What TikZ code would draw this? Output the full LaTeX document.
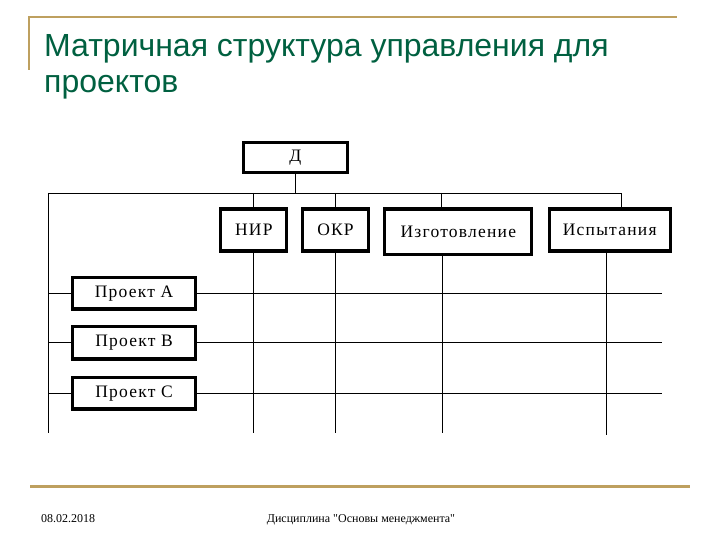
\documentclass[tikz,border=0pt]{standalone}
\usepackage{fontspec}
\setmainfont{Liberation Serif}[Ligatures=TeXOff]
\newfontfamily\titlefont{Liberation Sans}
\newfontfamily\boxfont[LetterSpace=7]{Liberation Serif}
\usetikzlibrary{positioning}
\definecolor{sGreen}{RGB}{0,96,64}
\definecolor{sGold}{RGB}{190,160,95}
\tikzset{
  obox/.style={draw, line width=3.2pt, fill=white, inner sep=0pt,
               font=\boxfont\fontsize{17.5}{20}\selectfont},
  oline/.style={black, line width=0.9pt},
  gline/.style={sGold, line width=2.2pt},
}
\begin{document}
\begin{tikzpicture}[x=1pt, y=-1pt]
    \useasboundingbox (0,0) rectangle (720,540);
    % title and frame
    \draw[gline] (29,70) -- (29,17) -- (677,17);
    \node[anchor=base west, inner sep=0pt, text=sGreen, font=\titlefont\fontsize{32}{36}\selectfont]
      (title) at (44,57) {Матричная структура управления для};
    \node[anchor=base west, inner sep=0pt, text=sGreen, font=\titlefont\fontsize{32}{36}\selectfont]
      (title2) at (44,93) {проектов};
    % boxes
    \node[obox, minimum width=104, minimum height=30] (dir) at (295.3,157.4) {Д};
    \node[obox, minimum width=66, minimum height=42] (nir) at (253.8,230) {НИР};
    \node[obox, minimum width=66, minimum height=42] (okr) at (335.5,230) {ОКР};
    \node[obox, minimum width=147, minimum height=45.5] (izg) at (458.3,231.7) {Изготовление};
    \node[obox, minimum width=121, minimum height=42] (isp) at (609.7,230) {Испытания};
    \node[obox, minimum width=123.5, minimum height=31.5] (pa) at (134,293.3) {Проект А};
    \node[obox, minimum width=123.5, minimum height=32.5] (pb) at (134,342.8) {Проект В};
    \node[obox, minimum width=123.5, minimum height=31.5] (pc) at (134,393.3) {Проект С};
    % junctions
    \coordinate (busL) at (48,193);
    \coordinate (busR) at (621,193);
    \coordinate (izgT) at (441,193);
    \coordinate (colL) at (48,433);
    \coordinate (izgB) at (442,433);
    \coordinate (ispB) at (606,435);
    \coordinate (rowR) at (662,293);
    % connectors
    \draw[oline] (dir.south) -- (dir.south |- busL);
    \draw[oline] (busL) -- (busR) -- (busR |- isp.north);
    \draw[oline] (nir.north |- busL) -- (nir.north);
    \draw[oline] (okr.north |- busL) -- (okr.north);
    \draw[oline] (izgT) -- (izgT |- izg.north);
    \draw[oline] (busL) -- (colL);
    \draw[oline] (nir.south) -- (nir.south |- colL);
    \draw[oline] (okr.south) -- (okr.south |- colL);
    \draw[oline] (izgB |- izg.south) -- (izgB);
    \draw[oline] (ispB |- isp.south) -- (ispB);
    \draw[oline] (pa.west -| colL) -- (pa.west);
    \draw[oline] (pb.west -| colL) -- (pb.west);
    \draw[oline] (pc.west -| colL) -- (pc.west);
    \draw[oline] (pa.east) -- (pa.east -| rowR);
    \draw[oline] (pb.east) -- (pb.east -| rowR);
    \draw[oline] (pc.east) -- (pc.east -| rowR);
    % footer
    \draw[gline, line width=3pt] (30,486) -- (690,486);
    \node[anchor=base west, inner sep=0pt, font=\fontsize{12}{14}\selectfont] (date) at (41,522) {08.02.2018};
    \node[anchor=base, inner sep=0pt, font=\fontsize{12}{14}\selectfont] (course) at (361,522) {Дисциплина "Основы менеджмента"};
\end{tikzpicture}
\end{document}
